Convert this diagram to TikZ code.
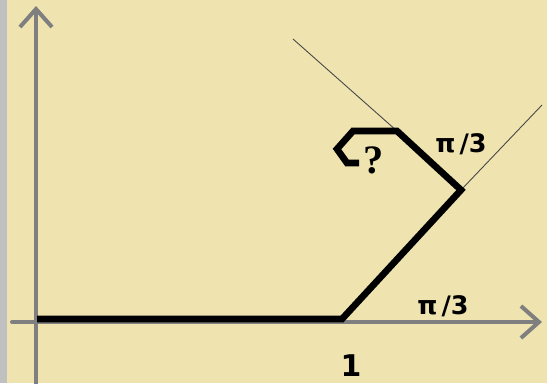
\documentclass[tikz,border=0pt]{standalone}
\usepackage{fontspec}
\usepackage{tikz}
\usetikzlibrary{arrows.meta,positioning,calc}
\newfontfamily\labelfont{DejaVu Sans}
\newfontfamily\qfont{Liberation Serif}
\definecolor{paintyellow}{RGB}{239,228,176}
\definecolor{paintgray}{RGB}{192,192,192}
\definecolor{axisgray}{RGB}{127,127,127}
\definecolor{guidegray}{RGB}{70,70,70}

\begin{document}
\begin{tikzpicture}[
  x=0.02cm, y=-0.02cm,
  axis/.style={axisgray, line width=2.3pt, line cap=round, -{Straight Barb[length=0.36cm, width=0.64cm]}},
  turtle/.style={black, line width=3.8pt},
  guide/.style={guidegray, line width=0.5pt},
  anglelabel/.style={font=\labelfont\bfseries\fontsize{14.5}{16}\selectfont, inner sep=0pt}
]

% Background
\fill[paintyellow] (0,0) rectangle (547,383);
\fill[paintgray] (0,0) rectangle (7,383);
\useasboundingbox (0,0) rectangle (547,383);

% Axes
\coordinate (ybottom) at (36,385);
\coordinate (ytop) at (36,6);
\coordinate (xleft) at (12,322);
\coordinate (xright) at (542,322);
\draw[axis] (ybottom) -- (ytop);
\draw[axis] (xleft) -- (xright);

% Path corners
\coordinate (start) at (37,319);
\coordinate (turn1) at (342,319);
\coordinate (turn2) at (461,190);
\coordinate (turn3) at (397,131);
\coordinate (hook1) at (353,131);
\coordinate (hook2) at (337,149);
\coordinate (hook3) at (347,163);
\coordinate (hookend) at (359,163);

% Extension lines
\coordinate (guideA) at (293,39);
\coordinate (guideB) at (542,105);
\draw[guide] (guideA) -- (turn3);
\draw[guide] (turn2) -- (guideB);

% Turtle path
\draw[turtle] (start) -- (turn1) -- (turn2) -- (turn3) -- (hook1) -- (hook2) -- (hook3) -- (hookend);

% Labels
\node[anglelabel] (angleup) at (461,144) {π\,/3};
\node[anglelabel] (anglelow) at (443,306) {π\,/3};
\node[font=\labelfont\bfseries\fontsize{17}{20}\selectfont, inner sep=0pt] (one) at (351,366) {1};
\node[font=\qfont\bfseries\fontsize{23}{26}\selectfont, inner sep=0pt] (query) at (374,160) {?};

\end{tikzpicture}
\end{document}
